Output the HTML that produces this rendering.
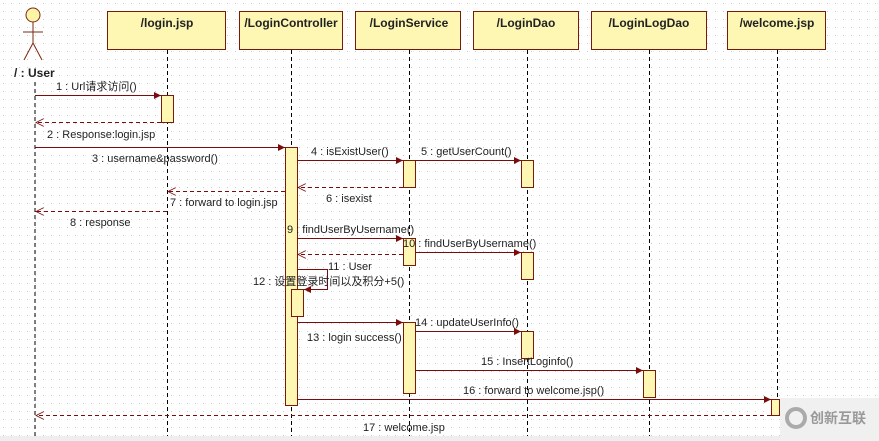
<!DOCTYPE html>
<html><head><meta charset="utf-8"><style>
html,body{margin:0;padding:0;background:#fff;}
svg{display:block;}
text{font-family:"Liberation Sans","Noto Sans CJK SC",sans-serif;font-size:11px;fill:#222;}
.h{font-weight:bold;font-size:12px;}
</style></head><body>
<svg width="879" height="441" viewBox="0 0 879 441" xmlns="http://www.w3.org/2000/svg">
<defs>
<pattern id="g" width="8" height="8" patternUnits="userSpaceOnUse"><rect x="3" y="3" width="1" height="1" fill="#c8c8c8"/></pattern>
<marker id="a" viewBox="0 0 10 10" refX="10" refY="5" markerWidth="9" markerHeight="7" orient="auto" markerUnits="userSpaceOnUse"><path d="M0,0L10,5L0,10z" fill="#7a0c0c"/></marker>
<marker id="o" viewBox="0 0 10 10" refX="10" refY="5" markerWidth="10" markerHeight="8" orient="auto" markerUnits="userSpaceOnUse"><path d="M0,0L10,5L0,10" fill="none" stroke="#7a0c0c" stroke-width="1"/></marker>
</defs>
<rect width="879" height="441" fill="url(#g)"/>
<rect x="0" y="436" width="879" height="5" fill="#eee"/>
<rect x="780" y="398" width="99" height="43" fill="#f0f0f0"/>
<circle cx="796" cy="418" r="9" fill="none" stroke="#aaa" stroke-width="4"/>
<text x="810" y="423" style="font-size:14px;fill:#999;font-weight:bold">创新互联</text>
<!-- actor -->
<g stroke="#7a2a10" fill="none" stroke-width="1">
<circle cx="33" cy="15" r="7" fill="#fdf4a8"/>
<line x1="33" y1="22" x2="33" y2="43"/><line x1="23" y1="32" x2="43" y2="32"/>
<line x1="33" y1="43" x2="24" y2="60"/><line x1="33" y1="43" x2="42" y2="60"/>
</g>
<text x="14" y="77" class="h">/ : User</text>
<g fill="#fdf7b3" stroke="#7a1a0a">
<rect x="107.5" y="11.5" width="118" height="38"/>
<rect x="239.5" y="11.5" width="103" height="38"/>
<rect x="355.5" y="11.5" width="105" height="38"/>
<rect x="473.5" y="11.5" width="105" height="38"/>
<rect x="591.5" y="11.5" width="115" height="38"/>
<rect x="727.5" y="11.5" width="98" height="38"/>
</g>
<g text-anchor="middle">
<text class="h" x="167" y="27">/login.jsp</text>
<text class="h" x="291" y="27">/LoginController</text>
<text class="h" x="409" y="27">/LoginService</text>
<text class="h" x="526" y="27">/LoginDao</text>
<text class="h" x="649" y="27">/LoginLogDao</text>
<text class="h" x="777" y="27">/welcome.jsp</text>
</g>
<g stroke="#000" stroke-dasharray="4,3" stroke-width="1">
<line x1="35" y1="82" x2="35" y2="436"/>
<line x1="167.5" y1="50" x2="167.5" y2="436"/>
<line x1="291.5" y1="50" x2="291.5" y2="436"/>
<line x1="409.5" y1="50" x2="409.5" y2="436"/>
<line x1="527.5" y1="50" x2="527.5" y2="436"/>
<line x1="649.5" y1="50" x2="649.5" y2="436"/>
<line x1="777.5" y1="50" x2="777.5" y2="398"/>
</g>
<g fill="#fdf7b3" stroke="#7a1a0a">
<rect x="161.5" y="95.5" width="12" height="27"/>
<rect x="285.5" y="147.5" width="12" height="258"/>
<rect x="403.5" y="160.5" width="12" height="27"/>
<rect x="521.5" y="160.5" width="12" height="27"/>
<rect x="403.5" y="238.5" width="12" height="27"/>
<rect x="521.5" y="252.5" width="12" height="27"/>
<rect x="291.5" y="289.5" width="12" height="27"/>
<rect x="403.5" y="322.5" width="12" height="71"/>
<rect x="521.5" y="331.5" width="12" height="27"/>
<rect x="643.5" y="370.5" width="12" height="27"/>
<rect x="771.5" y="399.5" width="8" height="16"/>
</g>
<g stroke="#7a0c0c" stroke-width="1" fill="none">
<line x1="35" y1="95.5" x2="161" y2="95.5" marker-end="url(#a)"/>
<line x1="161" y1="122.5" x2="36" y2="122.5" stroke-dasharray="4,3" marker-end="url(#o)"/>
<line x1="35" y1="147.5" x2="285" y2="147.5" marker-end="url(#a)"/>
<line x1="297" y1="160.5" x2="403" y2="160.5" marker-end="url(#a)"/>
<line x1="415" y1="160.5" x2="521" y2="160.5" marker-end="url(#a)"/>
<line x1="403" y1="187.5" x2="298" y2="187.5" stroke-dasharray="4,3" marker-end="url(#o)"/>
<line x1="285" y1="191.5" x2="168" y2="191.5" stroke-dasharray="4,3" marker-end="url(#o)"/>
<line x1="167" y1="211.5" x2="36" y2="211.5" stroke-dasharray="4,3" marker-end="url(#o)"/>
<line x1="297" y1="238.5" x2="403" y2="238.5" marker-end="url(#a)"/>
<line x1="415" y1="252.5" x2="521" y2="252.5" marker-end="url(#a)"/>
<line x1="403" y1="254.5" x2="298" y2="254.5" stroke-dasharray="4,3" marker-end="url(#o)"/>
<polyline points="297,269.5 327.5,269.5 327.5,289.5 304,289.5" marker-end="url(#a)"/>
<line x1="297" y1="322.5" x2="403" y2="322.5" marker-end="url(#a)"/>
<line x1="415" y1="331.5" x2="521" y2="331.5" marker-end="url(#a)"/>
<line x1="415" y1="370.5" x2="643" y2="370.5" marker-end="url(#a)"/>
<line x1="297" y1="399.5" x2="771" y2="399.5" marker-end="url(#a)"/>
<line x1="771" y1="415.5" x2="36" y2="415.5" stroke-dasharray="4,3" marker-end="url(#o)"/>
</g>
<text x="56" y="90">1 : Url请求访问()</text>
<text x="47" y="138">2 : Response:login.jsp</text>
<text x="92" y="162">3 : username&amp;password()</text>
<text x="311" y="155">4 : isExistUser()</text>
<text x="421" y="155">5 : getUserCount()</text>
<text x="326" y="202">6 : isexist</text>
<text x="170" y="206">7 : forward to login.jsp</text>
<text x="70" y="226">8 : response</text>
<text x="287" y="233">9 : findUserByUsername()</text>
<text x="403" y="247">10 : findUserByUsername()</text>
<text x="328" y="270">11 : User</text>
<text x="253" y="285">12 : 设置登录时间以及积分+5()</text>
<text x="307" y="341">13 : login success()</text>
<text x="415" y="326">14 : updateUserInfo()</text>
<text x="481" y="365">15 : InsertLoginfo()</text>
<text x="463" y="394">16 : forward to welcome.jsp()</text>
<text x="363" y="431">17 : welcome.jsp</text>
</svg>
</body></html>
